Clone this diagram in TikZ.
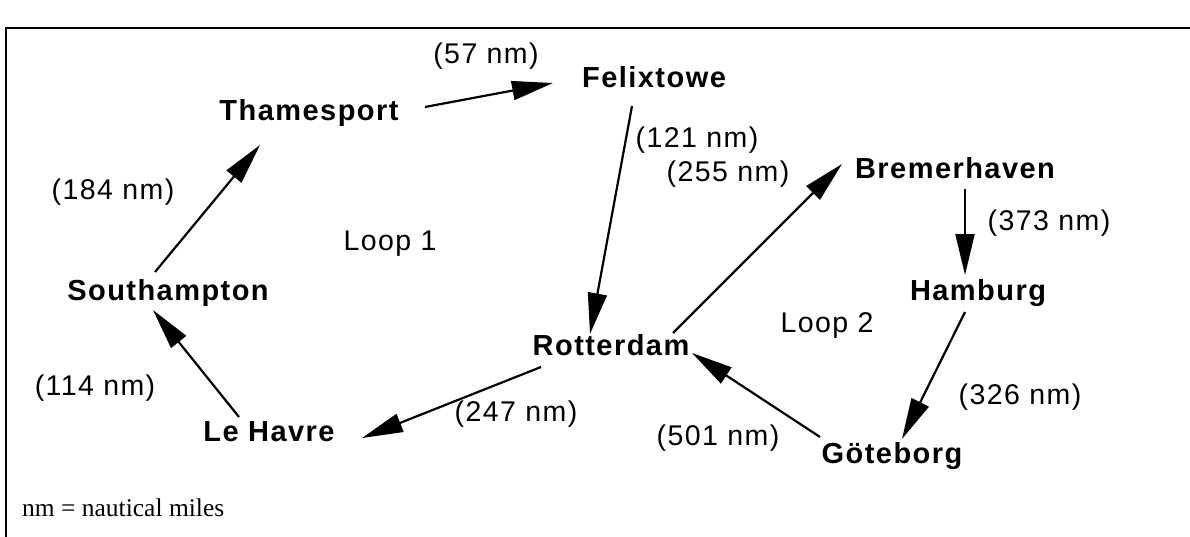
\documentclass[tikz,border=0pt]{standalone}
\usepackage{fontspec}
\setmainfont{Liberation Serif}
\newfontfamily\portfont[LetterSpace=5]{Liberation Sans}
\usetikzlibrary{arrows.meta}
\begin{document}
\begin{tikzpicture}[x=1pt,y=-1pt,
  port/.style={font=\portfont\bfseries\fontsize{29}{34}\selectfont, inner sep=0pt, anchor=base},
  dist/.style={font=\portfont\fontsize{28.5}{33}\selectfont, inner sep=0pt},
  looplabel/.style={font=\portfont\fontsize{28.5}{33}\selectfont, inner sep=0pt, anchor=base},
  route/.style={line width=2.2pt, -{Triangle[length=41pt,width=19pt]}},
  frame/.style={line width=2pt}
]
\useasboundingbox (0,0) rectangle (1190,536);
\clip (0,0) rectangle (1190,536);
\draw[frame] (6,600) -- (6,28) -- (1250,28);

% ports
\node[port] (T) at (309,120) {Thamesport};
\node[port] (F) at (654,87) {Felixtowe};
\node[port] (B) at (955,178) {Bremerhaven};
\node[port] (H) at (978,300) {Hamburg};
\node[port] (G) at (892,463) {Göteborg};
\node[port] (R) at (611,355) {Rotterdam};
\node[port] (L) at (269,441) {Le Havre};
\node[port] (S) at (168,300) {Southampton};

% loops
\node[looplabel] (loop1) at (390,250) {Loop 1};
\node[looplabel] (loop2) at (827,332) {Loop 2};

% distances
\node[dist] (d57) at (486,56) {(57 nm)};
\node[dist] (d121) at (697,140) {(121 nm)};
\node[dist] (d255) at (728,174) {(255 nm)};
\node[dist] (d184) at (113,192) {(184 nm)};
\node[dist] (d373) at (1049,223) {(373 nm)};
\node[dist] (d114) at (95,388) {(114 nm)};
\node[dist] (d247) at (516,414) {(247 nm)};
\node[dist] (d326) at (1020,397) {(326 nm)};
\node[dist] (d501) at (718,438) {(501 nm)};

\node[font=\fontsize{25.5}{30}\selectfont, inner sep=0pt, anchor=base west] (note) at (22,516) {nm = nautical miles};

% routes
\draw[route] ([shift={(116,-13)}]T.base) -- ([shift={(-101,-4)}]F.base);
\draw[route] ([shift={(-22,19)}]F.base) -- ([shift={(-21,-21)}]R.base);
\draw[route] ([shift={(62,-22)}]R.base) -- ([shift={(-113,-14)}]B.base);
\draw[route] ([shift={(10,11)}]B.base) -- ([shift={(-13,-25)}]H.base);
\draw[route] ([shift={(-13,12)}]H.base) -- ([shift={(10,-24)}]G.base);
\draw[route] ([shift={(-72,-26)}]G.base) -- ([shift={(81,-2)}]R.base);
\draw[route] ([shift={(-70,12)}]R.base) -- ([shift={(93,-3)}]L.base);
\draw[route] ([shift={(-30,-24)}]L.base) -- ([shift={(-15,10)}]S.base);
\draw[route] ([shift={(-13,-28)}]S.base) -- ([shift={(-49,25)}]T.base);
\end{tikzpicture}
\end{document}
